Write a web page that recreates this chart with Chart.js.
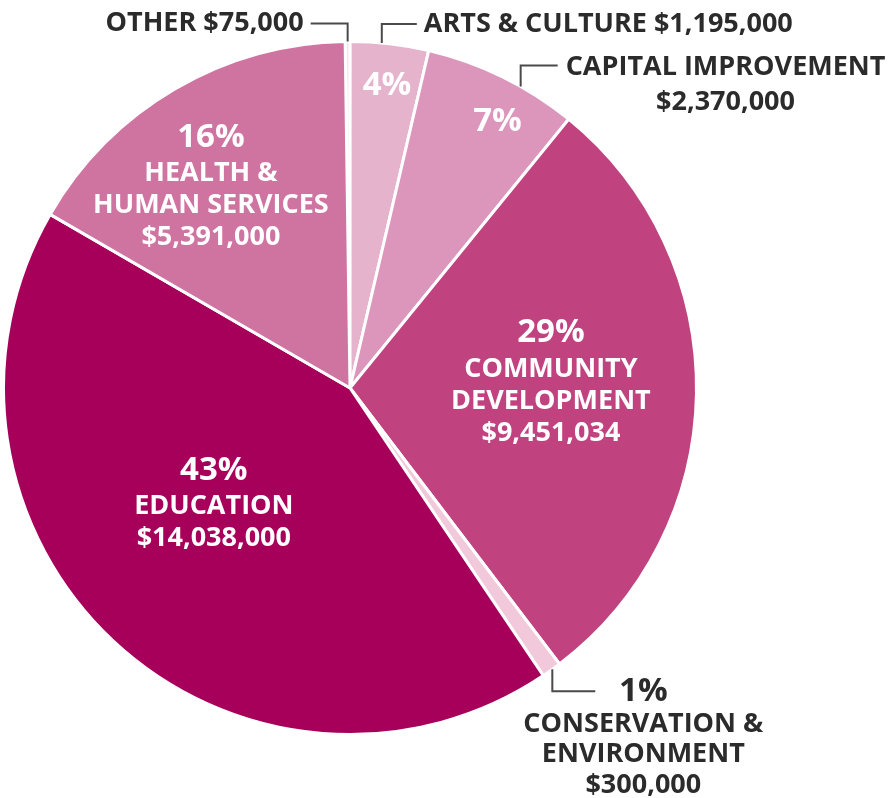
<!DOCTYPE html>
<html>
<head>
<meta charset="utf-8">
<script src="https://cdn.jsdelivr.net/npm/chart.js@4"></script>
<style>
  html, body { margin: 0; padding: 0; background: #fff; }
  canvas { display: block; }
</style>
</head>
<body>
<canvas id="pie" width="888" height="798"></canvas>
<script>
// data
var categories = ['OTHER', 'ARTS & CULTURE', 'CAPITAL IMPROVEMENT', 'COMMUNITY DEVELOPMENT', 'CONSERVATION & ENVIRONMENT', 'EDUCATION', 'HEALTH & HUMAN SERVICES'];
var amounts = [75000, 1195000, 2370000, 9451034, 300000, 14038000, 5391000];
var percents = ['', '4%', '7%', '29%', '1%', '43%', '16%'];
var amountText = ['$75,000', '$1,195,000', '$2,370,000', '$9,451,034', '$300,000', '$14,038,000', '$5,391,000'];
var sliceColors = ['#f7e4ed', '#e6b3cd', '#dc95bb', '#c0427f', '#f1c9db', '#a6005a', '#cf74a1'];

var darkText = '#2b2b2b';
var font = "'Open Sans', 'DejaVu Sans', sans-serif";
var pctSize = 33, lblSize = 27;

// inside: white block in the slice (turn = degrees off the mid angle, r = share of radius)
// outside: leader line from the rim, then dark text
var labelSpots = [
  { out: { at: 0.5, up: 18, side: -1, run: 37, lines: ['OTHER ' + amountText[0]] } },
  { inside: { r: 0.88, turn: 0.4, lines: [percents[1]] },
    out: { at: 0.4, up: 19, side: 1, run: 35, lines: [categories[1] + ' ' + amountText[1]] } },
  { inside: { r: 0.88, turn: 2.8, lines: [percents[2]] },
    out: { at: 0.63, up: 21, side: 1, run: 37, lines: ['CAPITAL IMPROVEMENT', amountText[2]], gap: 35 } },
  { inside: { r: 0.58, turn: -2.4, lines: [percents[3], 'COMMUNITY', 'DEVELOPMENT', amountText[3]] } },
  { out: { at: 0.45, up: -22, side: 1, run: 43, lines: [percents[4], 'CONSERVATION &', 'ENVIRONMENT', amountText[4]], center: 48, gap: 30.7 } },
  { inside: { r: 0.517, turn: 6.4, lines: [percents[5], 'EDUCATION', amountText[5]] } },
  { inside: { r: 0.705, turn: -4.35, lines: [percents[6], 'HEALTH &', 'HUMAN SERVICES', amountText[6]] } }
];

var labelPlugin = {
  id: 'sliceLabels',
  afterDatasetsDraw: function (chart) {
    var ctx = chart.ctx;
    var arcs = chart.getDatasetMeta(0).data;
    ctx.save();
    ctx.textBaseline = 'middle';
    arcs.forEach(function (arc, i) {
      var spot = labelSpots[i];
      var p = arc.getProps(['x', 'y', 'startAngle', 'endAngle', 'outerRadius'], true);
      if (spot.inside) {
        var s = spot.inside;
        var a = (p.startAngle + p.endAngle) / 2 + s.turn * Math.PI / 180;
        var cx = p.x + Math.cos(a) * p.outerRadius * s.r;
        var cy = p.y + Math.sin(a) * p.outerRadius * s.r;
        var h = s.lines.length > 1 ? 36 + 32 * (s.lines.length - 2) : 0;
        var y = cy - h / 2;
        ctx.fillStyle = '#ffffff';
        ctx.textAlign = 'center';
        s.lines.forEach(function (txt, k) {
          ctx.font = 'bold ' + (k === 0 ? pctSize : lblSize) + 'px ' + font;
          ctx.fillText(txt, cx, y);
          y += k === 0 ? 36 : 32;
        });
      }
      if (spot.out) {
        var o = spot.out;
        var b = p.startAngle + (p.endAngle - p.startAngle) * o.at;
        var ex = p.x + Math.cos(b) * p.outerRadius;
        var ey = p.y + Math.sin(b) * p.outerRadius;
        var ky = ey - o.up;
        var kx = ex + o.side * o.run;
        ctx.strokeStyle = '#4a4a4a';
        ctx.lineWidth = 2;
        ctx.beginPath();
        ctx.moveTo(ex, ey);
        ctx.lineTo(ex, ky);
        ctx.lineTo(kx, ky);
        ctx.stroke();
        ctx.fillStyle = darkText;
        if (o.lines.length === 1) {
          ctx.font = 'bold ' + lblSize + 'px ' + font;
          ctx.textAlign = o.side < 0 ? 'right' : 'left';
          ctx.fillText(o.lines[0], kx + o.side * 7, ky);
        } else {
          var mid;
          if (o.center) {
            mid = kx + o.center;
          } else {
            ctx.font = 'bold ' + lblSize + 'px ' + font;
            mid = kx + 8 + ctx.measureText(o.lines[0]).width / 2;
          }
          ctx.textAlign = 'center';
          o.lines.forEach(function (txt, k) {
            var big = /%$/.test(txt);
            ctx.font = 'bold ' + (big ? pctSize : lblSize) + 'px ' + font;
            ctx.fillText(txt, mid, ky + 2 + k * o.gap - (big ? 2 : 0));
          });
        }
      }
    });
    ctx.restore();
  }
};

var ctx = document.getElementById('pie').getContext('2d');
var pieChart = new Chart(ctx, {
  type: 'pie',
  data: {
    labels: categories,
    datasets: [{
      data: amounts,
      backgroundColor: sliceColors,
      borderColor: '#ffffff',
      borderWidth: 3
    }]
  },
  options: {
    responsive: false,
    animation: false,
    rotation: -0.8,
    layout: { padding: { left: 2, top: 40, right: 190, bottom: 62 } },
    plugins: {
      legend: { display: false },
      tooltip: { enabled: false }
    }
  },
  plugins: [labelPlugin]
});
</script>
</body>
</html>
